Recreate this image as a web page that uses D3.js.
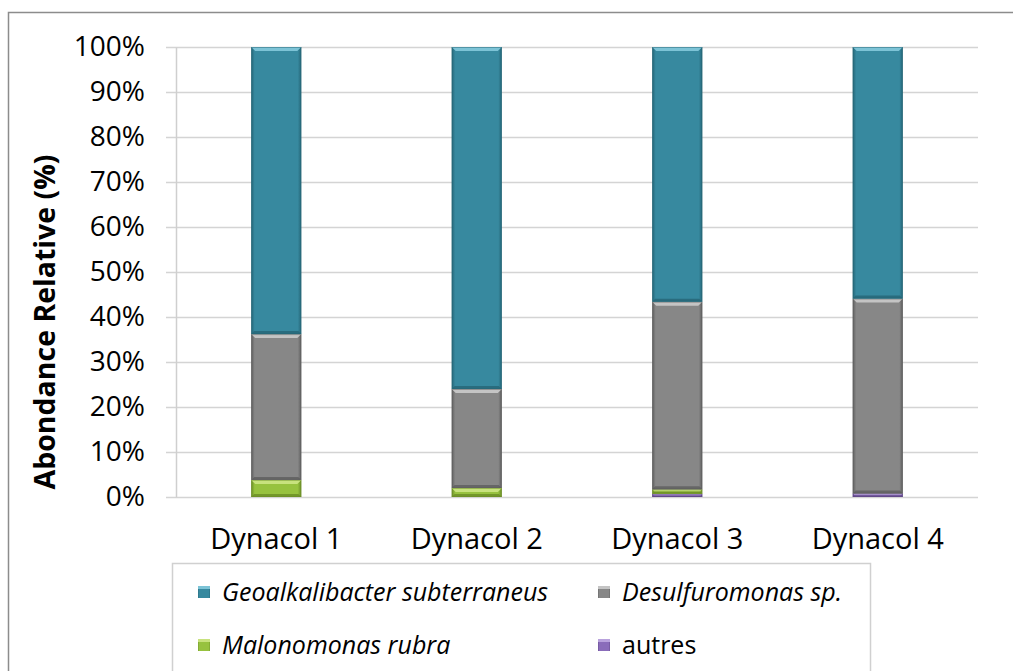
<!DOCTYPE html>
<html>
<head>
<meta charset="utf-8">
<script src="https://cdn.jsdelivr.net/npm/d3@7"></script>
<style>
  html, body { margin: 0; padding: 0; background: #fff; }
  svg { display: block; }
  text { font-family: "Open Sans", "Noto Sans", sans-serif; fill: #000; }
</style>
</head>
<body>
<svg id="chart" width="1013" height="671"></svg>
<script>
// Relative abundance (%) of taxa per Dynacol sample
const categories = ["Dynacol 1", "Dynacol 2", "Dynacol 3", "Dynacol 4"];
const autres = [0.0, 0.0, 0.7, 0.8];
const malonomonas = [3.8, 2.0, 1.0, 0.0];
const desulfuromonas = [32.4, 22.0, 41.7, 43.3];
const geoalkalibacter = [63.8, 76.0, 56.6, 55.9];
const yTicks = [0, 10, 20, 30, 40, 50, 60, 70, 80, 90, 100];

// stacking order, bottom to top
const seriesKeys = ["autres", "malonomonas", "desulfuromonas", "geoalkalibacter"];
const seriesInfo = {
  geoalkalibacter: { label: "Geoalkalibacter subterraneus", italic: true, color: "#37899f", light: "#7cc3d6", dark: "#256576" },
  desulfuromonas: { label: "Desulfuromonas sp.", italic: true, color: "#878787", light: "#c4c4c4", dark: "#5e5e5e" },
  malonomonas: { label: "Malonomonas rubra", italic: true, color: "#97c23f", light: "#c8e27e", dark: "#6a8c26" },
  autres: { label: "autres", italic: false, color: "#8a6cba", light: "#b9a2dd", dark: "#5e4585" }
};
const legendOrder = ["geoalkalibacter", "desulfuromonas", "malonomonas", "autres"];

const rows = categories.map((c, i) => ({
  category: c,
  autres: autres[i],
  malonomonas: malonomonas[i],
  desulfuromonas: desulfuromonas[i],
  geoalkalibacter: geoalkalibacter[i]
}));

const svg = d3.select("#chart");
const defs = svg.append("defs");

// outer chart frame
svg.append("rect")
  .attr("x", 8.5).attr("y", 12.5)
  .attr("width", 1013).attr("height", 680)
  .attr("fill", "#fff").attr("stroke", "#8c8c8c").attr("stroke-width", 1.5);

const plot = { left: 176, right: 978, top: 47, bottom: 497 };

const x = d3.scaleBand()
  .domain(categories)
  .range([plot.left, plot.right])
  .paddingInner(0.75)
  .paddingOuter(0.375);

const y = d3.scaleLinear().domain([0, 100]).range([plot.bottom, plot.top]);

// gridlines (extend left past the axis as tick marks)
const grid = svg.append("g")
  .attr("transform", `translate(${plot.right},0)`)
  .call(d3.axisRight(y).tickValues(yTicks).tickSize(-(plot.right - plot.left + 10)).tickFormat(""));
grid.select(".domain").remove();
grid.selectAll(".tick line").attr("stroke", "#d4d4d4").attr("stroke-width", 1.5);

// y axis labels
const yAxis = svg.append("g")
  .attr("transform", `translate(${plot.left},0)`)
  .call(d3.axisLeft(y).tickValues(yTicks).tickSize(0).tickPadding(31).tickFormat(d => d + "%"));
yAxis.select(".domain").attr("stroke", "#cfcfcf").attr("stroke-width", 1.5);
yAxis.selectAll(".tick text")
  .attr("font-size", 28)
  .attr("font-family", "'Open Sans', sans-serif")
  .attr("fill", "#000");

// x axis labels
const xAxis = svg.append("g")
  .attr("transform", `translate(0,${plot.bottom})`)
  .call(d3.axisBottom(x).tickSize(0).tickPadding(31));
xAxis.select(".domain").remove();
xAxis.selectAll(".tick text")
  .attr("font-size", 29)
  .attr("font-family", "'Open Sans', sans-serif")
  .attr("fill", "#000")
  .attr("dy", "0.72em");

// y axis title
svg.append("text")
  .attr("transform", `translate(55,322) rotate(-90)`)
  .attr("text-anchor", "middle")
  .attr("font-size", 28.5)
  .attr("font-weight", "bold")
  .text("Abondance Relative (%)");

// gradients for the bevelled bar look
seriesKeys.forEach(k => {
  const s = seriesInfo[k];
  const g = defs.append("linearGradient").attr("id", "side-" + k)
    .attr("x1", 0).attr("x2", 1).attr("y1", 0).attr("y2", 0);
  g.append("stop").attr("offset", "0%").attr("stop-color", s.dark);
  g.append("stop").attr("offset", "7%").attr("stop-color", s.color);
  g.append("stop").attr("offset", "93%").attr("stop-color", s.color);
  g.append("stop").attr("offset", "100%").attr("stop-color", s.dark);
});

const stacked = d3.stack().keys(seriesKeys)(rows);

const layers = svg.append("g").selectAll("g")
  .data(stacked)
  .join("g");

layers.each(function (layer) {
  const k = layer.key;
  const s = seriesInfo[k];
  const segs = layer.filter(d => d[1] - d[0] > 0.001);
  const g = d3.select(this);
  const items = g.selectAll("g").data(segs).join("g");

  // body
  items.append("rect")
    .attr("x", d => x(d.data.category))
    .attr("y", d => y(d[1]))
    .attr("width", x.bandwidth())
    .attr("height", d => y(d[0]) - y(d[1]))
    .attr("fill", `url(#side-${k})`);

  // top highlight bevel
  items.append("path")
    .attr("d", d => {
      const x0 = x(d.data.category), x1 = x0 + x.bandwidth();
      const yt = y(d[1]);
      const h = Math.min(4, (y(d[0]) - y(d[1])) / 2);
      return `M${x0},${yt}H${x1}L${x1 - h},${yt + h}H${x0 + h}Z`;
    })
    .attr("fill", s.light);

  // bottom shadow bevel
  items.append("path")
    .attr("d", d => {
      const x0 = x(d.data.category), x1 = x0 + x.bandwidth();
      const yb = y(d[0]);
      const h = Math.min(3, (y(d[0]) - y(d[1])) / 2);
      return `M${x0},${yb}H${x1}L${x1 - h},${yb - h}H${x0 + h}Z`;
    })
    .attr("fill", s.dark)
    .attr("opacity", 0.8);

  // thin outline
  items.append("rect")
    .attr("x", d => x(d.data.category) + 0.5)
    .attr("y", d => y(d[1]) + 0.5)
    .attr("width", x.bandwidth() - 1)
    .attr("height", d => Math.max(0, y(d[0]) - y(d[1]) - 1))
    .attr("fill", "none")
    .attr("stroke", s.dark)
    .attr("stroke-opacity", 0.5)
    .attr("stroke-width", 1);
});

// legend
const legend = svg.append("g");
legend.append("rect")
  .attr("x", 172.5).attr("y", 563.5)
  .attr("width", 698).attr("height", 140)
  .attr("fill", "#fff").attr("stroke", "#d0d0d0").attr("stroke-width", 1.5);

const legendPos = [
  { x: 198, y: 592 }, { x: 598, y: 592 },
  { x: 198, y: 645 }, { x: 598, y: 645 }
];
const li = legend.selectAll("g.item")
  .data(legendOrder)
  .join("g")
  .attr("class", "item")
  .attr("transform", (d, i) => `translate(${legendPos[i].x},${legendPos[i].y})`);

li.append("rect")
  .attr("x", 0).attr("y", -6)
  .attr("width", 12).attr("height", 12)
  .attr("fill", d => `url(#side-${d})`);
li.append("rect")
  .attr("x", 0).attr("y", -6)
  .attr("width", 12).attr("height", 3)
  .attr("fill", d => seriesInfo[d].light);

li.append("text")
  .attr("x", 24)
  .attr("y", 0)
  .attr("dy", "0.36em")
  .attr("font-size", 25)
  .attr("font-style", d => seriesInfo[d].italic ? "italic" : "normal")
  .text(d => seriesInfo[d].label);
</script>
</body>
</html>
